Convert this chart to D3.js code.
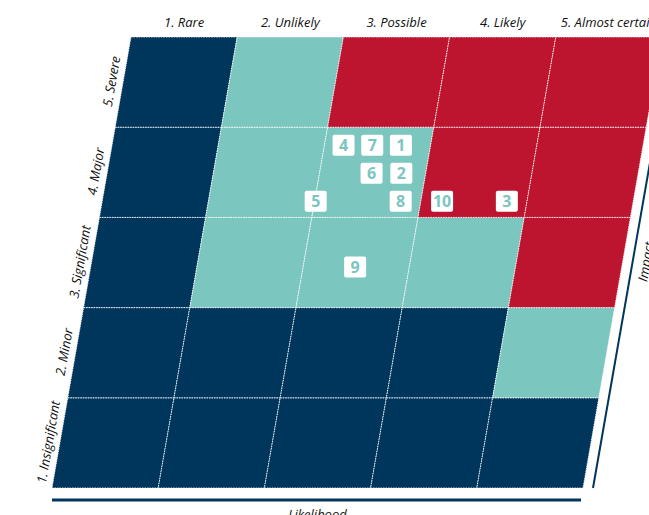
<!DOCTYPE html>
<html>
<head>
<meta charset="utf-8">
<script src="https://cdn.jsdelivr.net/npm/d3@7"></script>
<style>
  body { margin: 0; background: #fff; }
  text { font-family: "Open Sans", sans-serif; }
</style>
</head>
<body>
<svg id="chart"></svg>
<script>
const likelihoodLabels = ['1. Rare', '2. Unlikely', '3. Possible', '4. Likely', '5. Almost certain'];
const impactLabels = ['1. Insignificant', '2. Minor', '3. Significant', '4. Major', '5. Severe'];

// zone per cell, rows from impact 1 (bottom) to impact 5 (top)
const cellZones = [
  ['low', 'low', 'low', 'low', 'low'],
  ['low', 'low', 'low', 'low', 'medium'],
  ['low', 'medium', 'medium', 'medium', 'high'],
  ['low', 'medium', 'medium', 'high', 'high'],
  ['low', 'medium', 'high', 'high', 'high']
];

const riskIds = [1, 2, 3, 4, 5, 6, 7, 8, 9, 10];
const riskLikelihood = [3.22, 3.27, 4.31, 2.68, 2.51, 2.99, 2.95, 3.31, 2.99, 3.70];
const riskImpact = [4.30, 3.99, 3.68, 4.30, 3.68, 3.99, 4.30, 3.68, 2.95, 3.68];

const zoneColors = { low: '#00365c', medium: '#7bc6bf', high: '#bd152f' };
const navy = '#00365c';

const svgWidth = 649;
const svgHeight = 515;
const grid = { left: 52, right: 583, top: 37, bottom: 488, skew: 79 };

const svg = d3.select('#chart')
  .attr('width', svgWidth)
  .attr('height', svgHeight);

const xScale = d3.scaleLinear().domain([0.5, 5.5]).range([grid.left, grid.right]);
const yScale = d3.scaleLinear().domain([0.5, 5.5]).range([grid.bottom, grid.top]);
const shift = d3.scaleLinear().domain([0.5, 5.5]).range([0, grid.skew]);

const pos = (l, i) => [xScale(l) + shift(i), yScale(i)];

const cells = [];
cellZones.forEach((row, r) => {
  row.forEach((zone, c) => cells.push({ l: c + 1, i: r + 1, zone }));
});

svg.append('g')
  .selectAll('path')
  .data(cells)
  .enter().append('path')
  .attr('d', d => {
    const pts = [
      pos(d.l - 0.5, d.i - 0.5), pos(d.l + 0.5, d.i - 0.5),
      pos(d.l + 0.5, d.i + 0.5), pos(d.l - 0.5, d.i + 0.5)
    ];
    return 'M' + pts.join('L') + 'Z';
  })
  .attr('fill', d => zoneColors[d.zone])
  .attr('stroke', '#fff')
  .attr('stroke-width', 0.8)
  .attr('stroke-dasharray', '1.5,1');

// top labels (likelihood)
svg.append('g')
  .selectAll('text')
  .data(likelihoodLabels)
  .enter().append('text')
  .attr('x', (d, k) => pos(k + 1, 5.5)[0])
  .attr('y', 27)
  .attr('text-anchor', 'middle')
  .attr('font-size', 13)
  .attr('font-style', 'italic')
  .attr('fill', '#111')
  .text(d => d);

// left labels (impact)
const angle = -90 + Math.atan(grid.skew / (grid.bottom - grid.top)) * 180 / Math.PI;
svg.append('g')
  .selectAll('text')
  .data(impactLabels)
  .enter().append('text')
  .attr('transform', (d, k) => {
    const p = pos(0.5, k + 1);
    return `translate(${p[0] - 7}, ${p[1]}) rotate(${angle})`;
  })
  .attr('text-anchor', 'middle')
  .attr('font-size', 13)
  .attr('font-style', 'italic')
  .attr('fill', '#111')
  .text(d => d);

// likelihood axis line
svg.append('line')
  .attr('x1', xScale(0.5)).attr('x2', xScale(5.5) - 2)
  .attr('y1', 500).attr('y2', 500)
  .attr('stroke', navy)
  .attr('stroke-width', 3);

svg.append('text')
  .attr('x', (xScale(0.5) + xScale(5.5)) / 2)
  .attr('y', 519)
  .attr('text-anchor', 'middle')
  .attr('font-size', 13)
  .attr('font-style', 'italic')
  .attr('fill', '#111')
  .text('Likelihood');

// impact axis line
const b = pos(5.5, 0.5), t = pos(5.5, 5.5);
svg.append('line')
  .attr('x1', b[0] + 10).attr('y1', b[1])
  .attr('x2', t[0] + 10).attr('y2', t[1])
  .attr('stroke', navy)
  .attr('stroke-width', 2);

const m = pos(5.5, 3);
svg.append('text')
  .attr('transform', `translate(${m[0] + 28}, ${m[1]}) rotate(${angle})`)
  .attr('text-anchor', 'middle')
  .attr('font-size', 13)
  .attr('font-style', 'italic')
  .attr('fill', '#111')
  .text('Impact');

// risk markers
const risks = riskIds.map((id, k) => ({ id, l: riskLikelihood[k], i: riskImpact[k] }));
const marker = svg.append('g')
  .selectAll('g')
  .data(risks)
  .enter().append('g')
  .attr('transform', d => `translate(${pos(d.l, d.i).join(',')})`);

marker.append('rect')
  .attr('x', -11).attr('y', -10.5)
  .attr('width', 22).attr('height', 21)
  .attr('rx', 2)
  .attr('fill', '#fff');

marker.append('text')
  .attr('text-anchor', 'middle')
  .attr('dy', '0.36em')
  .attr('font-size', 16)
  .attr('font-weight', 700)
  .attr('fill', '#7bc6bf')
  .text(d => d.id);
</script>
</body>
</html>
